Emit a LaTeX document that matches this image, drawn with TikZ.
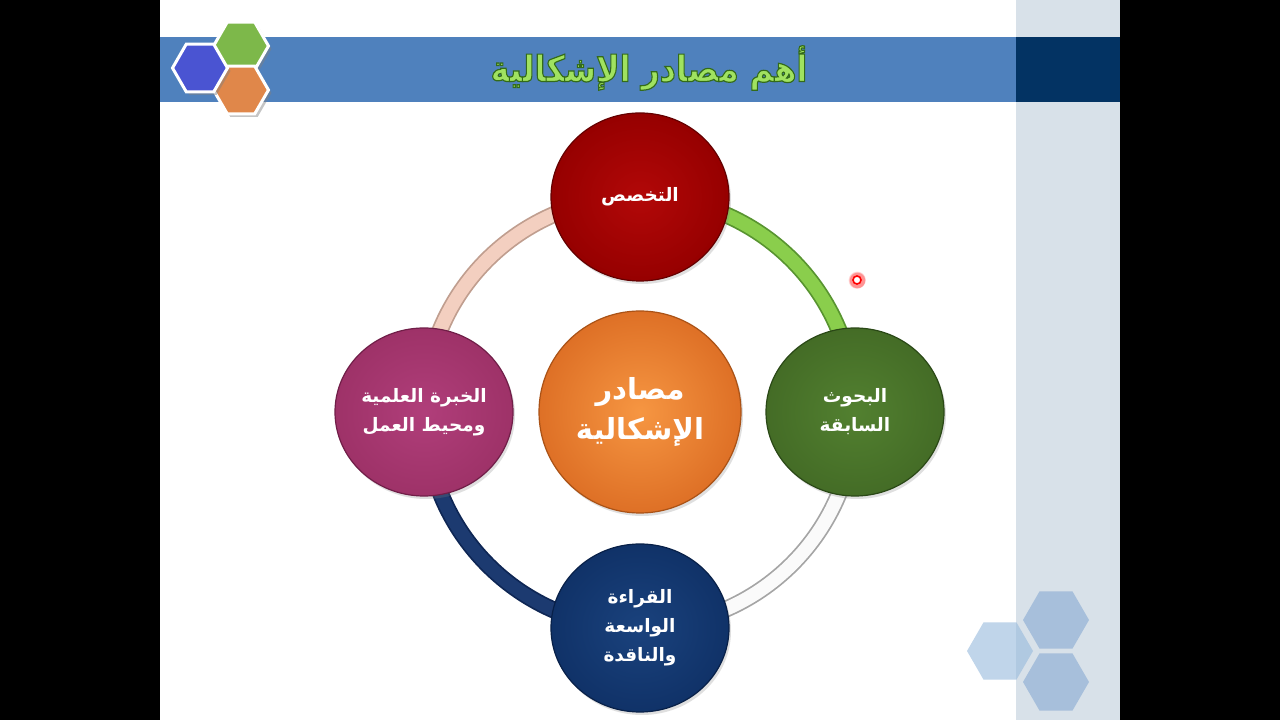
\documentclass[tikz,border=0pt]{standalone}
\usepackage{fontspec}
\usetikzlibrary{shapes.geometric,shadows}
\newfontfamily\arabicfont[Script=Arabic]{DejaVu Sans}
\TeXXeTstate=1
\newcommand{\artxt}[1]{\beginR #1\endR}
\newcommand{\outlineon}{\special{pdf:literal direct 2 Tr 1.2 w 0.2 0.42 0.1 RG}}
\newcommand{\outlineoff}{\special{pdf:literal direct 0 Tr}}
\pgfdeclarelayer{bg}
\pgfsetlayers{bg,main}
\definecolor{stripc}{RGB}{216,225,233}
\definecolor{titleblue}{RGB}{79,129,189}
\definecolor{navybar}{RGB}{3,51,99}
\definecolor{hexblue}{RGB}{74,84,210}
\definecolor{hexgreen}{RGB}{125,184,74}
\definecolor{hexorange}{RGB}{224,135,74}
\definecolor{hexlight}{RGB}{167,191,219}
\definecolor{hexpale}{RGB}{150,185,220}
\definecolor{titlegreen}{RGB}{160,226,96}
\definecolor{orin}{RGB}{246,150,66}
\definecolor{orout}{RGB}{222,112,38}
\definecolor{orrim}{RGB}{170,82,22}
\definecolor{rdin}{RGB}{178,8,8}
\definecolor{rdout}{RGB}{150,0,0}
\definecolor{rdrim}{RGB}{100,0,0}
\definecolor{gnin}{RGB}{82,128,48}
\definecolor{gnout}{RGB}{68,108,38}
\definecolor{gnrim}{RGB}{42,72,22}
\definecolor{nvin}{RGB}{26,66,125}
\definecolor{nvout}{RGB}{16,50,104}
\definecolor{nvrim}{RGB}{8,32,72}
\definecolor{mgin}{RGB}{176,62,122}
\definecolor{mgout}{RGB}{158,50,104}
\definecolor{mgrim}{RGB}{112,30,72}
\definecolor{arcgreen}{RGB}{138,206,76}
\definecolor{arcgreenE}{RGB}{88,148,48}
\definecolor{arcwhite}{RGB}{250,250,250}
\definecolor{arcwhiteE}{RGB}{165,165,165}
\definecolor{arcnavy}{RGB}{28,58,112}
\definecolor{arcnavyE}{RGB}{14,38,84}
\definecolor{arcpink}{RGB}{243,207,192}
\definecolor{arcpinkE}{RGB}{192,158,143}
\begin{document}
\begin{tikzpicture}[x=1pt,y=1pt,
  sat/.style={ellipse, minimum width=178pt, minimum height=168pt, inner sep=0pt,
    text=white, align=center, line width=1.2pt,
    font=\arabicfont\bfseries\fontsize{18.5}{29}\selectfont,
    drop shadow={opacity=0.25, shadow xshift=2pt, shadow yshift=-3pt}},
  hub/.style={circle, minimum size=202pt, inner sep=0pt, text=white, align=center,
    line width=1.2pt, font=\arabicfont\bfseries\fontsize{29}{42}\selectfont,
    drop shadow={opacity=0.25, shadow xshift=2pt, shadow yshift=-3pt}},
  hexa/.style={regular polygon, regular polygon sides=6, inner sep=0pt},
  hexlogo/.style={hexa, minimum size=55pt, draw=white, line width=3pt,
    drop shadow={opacity=0.45, shadow xshift=3pt, shadow yshift=-3pt, fill=gray}},
  hexdeco/.style={hexa, minimum size=66pt},
  ringedge/.style={line width=17pt},
  ringfill/.style={line width=13.5pt},
  titletext/.style={text=titlegreen, xscale=0.88, transform shape,
    font=\arabicfont\bfseries\fontsize{36}{40}\selectfont}]
\useasboundingbox (0,0) rectangle (1280,720);

% satellites and hub
\node[hub, inner color=orin, outer color=orout, draw=orrim] (hub) at (640,308)
  {\artxt{مصادر}\\[-2pt]\artxt{الإشكالية}};
\node[sat, inner color=rdin, outer color=rdout, draw=rdrim] (top) at (640,523)
  {\artxt{التخصص}};
\node[sat, inner color=gnin, outer color=gnout, draw=gnrim] (right) at (855,308)
  {\artxt{البحوث}\\\artxt{السابقة}};
\node[sat, inner color=nvin, outer color=nvout, draw=nvrim] (bottom) at (640,92)
  {\artxt{القراءة}\\\artxt{الواسعة}\\\artxt{والناقدة}};
\node[sat, inner color=mgin, outer color=mgout, draw=mgrim] (left) at (424,308)
  {\artxt{الخبرة العلمية}\\\artxt{ومحيط العمل}};

% title and decorations
\node[titletext] (title) at (649,652) {\outlineon\artxt{أهم مصادر الإشكالية}\outlineoff};
\node[hexlogo, fill=hexgreen] (hg) at (241,674) {};
\node[hexlogo, fill=hexorange] (ho) at (241,630) {};
\node[hexlogo, fill=hexblue] (hb) at (200,652) {};
\node[hexdeco, fill=hexlight] (dtop) at (1056,100) {};
\node[hexdeco, fill=hexlight] (dbot) at (1056,38) {};
\node[hexdeco, fill=hexpale, fill opacity=0.6] (dleft) at (1000,69) {};
\node[circle, draw=red, fill=white, line width=1.6pt, inner sep=0pt, minimum size=8pt,
  circular glow={fill=red!70, opacity=0.6, shadow scale=2.2}] (dot) at (857,440) {};

\begin{pgfonlayer}{bg}
  \fill[black] (0,0) rectangle (1280,720);
  \fill[white] (160,0) rectangle (1120,720);
  \fill[stripc] (1016,0) rectangle (1120,720);
  \fill[titleblue] (160,618) rectangle (1016,683);
  \fill[navybar] (1016,618) rectangle (1120,683);
  % ring
  \draw[ringedge, arcgreenE] (top.center) arc[start angle=90, end angle=0, radius=215pt];
  \draw[ringfill, arcgreen] (top.center) arc[start angle=90, end angle=0, radius=215pt];
  \draw[ringedge, arcwhiteE] (right.center) arc[start angle=0, end angle=-90, radius=215pt];
  \draw[ringfill, arcwhite] (right.center) arc[start angle=0, end angle=-90, radius=215pt];
  \draw[ringedge, arcnavyE] (bottom.center) arc[start angle=-90, end angle=-180, radius=215pt];
  \draw[ringfill, arcnavy] (bottom.center) arc[start angle=-90, end angle=-180, radius=215pt];
  \draw[ringedge, arcpinkE] (left.center) arc[start angle=180, end angle=90, radius=215pt];
  \draw[ringfill, arcpink] (left.center) arc[start angle=180, end angle=90, radius=215pt];
\end{pgfonlayer}
\end{tikzpicture}
\end{document}
